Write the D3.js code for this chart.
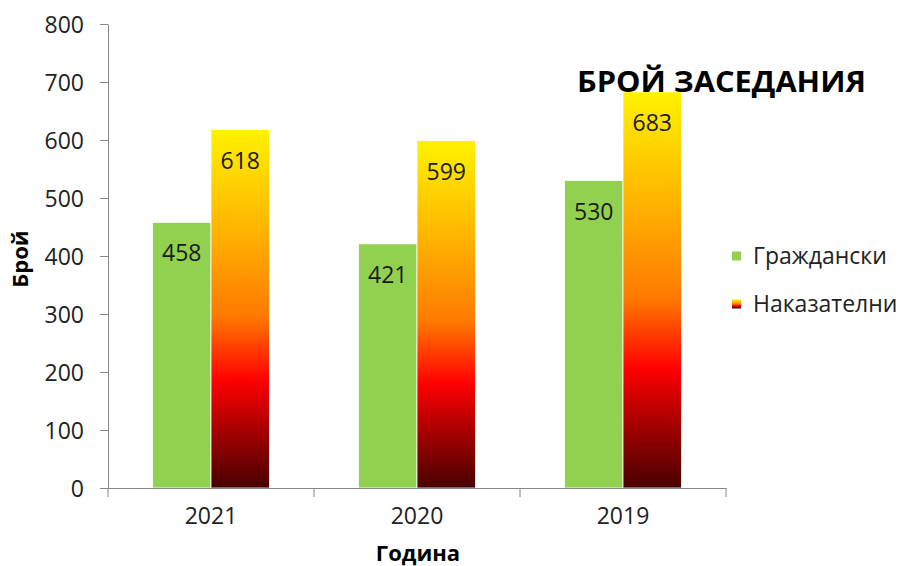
<!DOCTYPE html>
<html>
<head>
<meta charset="utf-8">
<script src="https://cdn.jsdelivr.net/npm/d3@7"></script>
<style>
  html, body { margin: 0; padding: 0; background: #fff; }
  svg { display: block; font-family: "Open Sans", sans-serif; }
</style>
</head>
<body>
<svg id="chart" width="898" height="566"></svg>
<script>
const categories = ["2021", "2020", "2019"];
const seriesNames = ["Граждански", "Наказателни"];
const civil = [458, 421, 530];
const criminal = [618, 599, 683];
const yTicks = [0, 100, 200, 300, 400, 500, 600, 700, 800];
const title = "БРОЙ ЗАСЕДАНИЯ";
const xTitle = "Година";
const yTitle = "Брой";

const svg = d3.select("#chart");
const margin = {left: 108, right: 172, top: 24, bottom: 78};
const W = 898, H = 566;

const defs = svg.append("defs");
const grad = defs.append("linearGradient").attr("id", "fire")
  .attr("x1", 0).attr("y1", 0).attr("x2", 0).attr("y2", 1);
[[0, "#FFF200"], [0.28, "#FFB400"], [0.52, "#FF7A00"], [0.70, "#FF0000"], [0.85, "#A00000"], [1, "#480000"]]
  .forEach(([o, c]) => grad.append("stop").attr("offset", o).attr("stop-color", c));

const x = d3.scaleBand().domain(categories).range([margin.left, W - margin.right]).paddingInner(0).paddingOuter(0);
const sub = d3.scaleBand().domain(seriesNames).range([x.bandwidth() * 0.216, x.bandwidth() * 0.784]).padding(0);
const y = d3.scaleLinear().domain([0, 800]).range([H - margin.bottom, margin.top]);

const fills = ["#92D050", "url(#fire)"];
const values = [civil, criminal];

// bars
seriesNames.forEach((s, si) => {
  const g = svg.append("g");
  g.selectAll("rect").data(categories).join("rect")
    .attr("x", d => x(d) + sub(s))
    .attr("y", (d, i) => y(values[si][i]))
    .attr("width", sub.bandwidth())
    .attr("height", (d, i) => y(0) - y(values[si][i]))
    .attr("fill", fills[si])
    .attr("stroke", "#ffffff").attr("stroke-width", 0.8);
  g.selectAll("text").data(categories).join("text")
    .attr("x", d => x(d) + sub(s) + sub.bandwidth() / 2)
    .attr("y", (d, i) => y(values[si][i]) + 39)
    .attr("text-anchor", "middle")
    .attr("font-size", 23)
    .attr("fill", "#1a1a1a")
    .text((d, i) => values[si][i]);
});

// y axis
const yAxis = d3.axisLeft(y).tickValues(yTicks).tickSize(8).tickPadding(16).tickSizeOuter(0);
const ga = svg.append("g").attr("transform", `translate(${margin.left},0)`).call(yAxis);
ga.select(".domain").attr("stroke", "#868686");
ga.selectAll(".tick line").attr("stroke", "#868686");
ga.selectAll(".tick text").attr("font-size", 23).attr("fill", "#222").attr("font-family", "Open Sans, sans-serif").attr("dy", "0.36em");

// x axis
const xAxis = d3.axisBottom(x).tickSize(0).tickPadding(20).tickSizeOuter(0);
const gx = svg.append("g").attr("transform", `translate(0,${y(0)})`).call(xAxis);
gx.select(".domain").attr("stroke", "#868686");
gx.selectAll(".tick text").attr("font-size", 23).attr("fill", "#222").attr("font-family", "Open Sans, sans-serif");
const bounds = categories.map(c => x(c)).concat([x(categories[categories.length - 1]) + x.bandwidth()]);
gx.selectAll("line.sep").data(bounds).join("line").attr("class", "sep")
  .attr("x1", d => d).attr("x2", d => d).attr("y1", 0).attr("y2", 9)
  .attr("stroke", "#868686");

// titles
svg.append("text").attr("x", 721.5).attr("y", 92).attr("text-anchor", "middle")
  .attr("font-size", 29).attr("font-weight", "bold").attr("fill", "#000")
  .attr("textLength", 289).attr("lengthAdjust", "spacingAndGlyphs").text(title);
svg.append("text").attr("x", 418).attr("y", 561).attr("text-anchor", "middle")
  .attr("font-size", 22).attr("font-weight", "bold").attr("fill", "#000").text(xTitle);
svg.append("text").attr("transform", "translate(28,259) rotate(-90)").attr("text-anchor", "middle")
  .attr("font-size", 22).attr("font-weight", "bold").attr("fill", "#000").text(yTitle);

// legend
const lg = svg.append("g");
seriesNames.forEach((s, i) => {
  const cy = 256 + i * 48;
  lg.append("rect").attr("x", 732).attr("y", cy - 4.5).attr("width", 9).attr("height", 9).attr("fill", fills[i]);
  lg.append("text").attr("x", 753).attr("y", cy).attr("dy", "0.36em")
    .attr("font-size", 23).attr("fill", "#222").text(s);
});
</script>
</body>
</html>
